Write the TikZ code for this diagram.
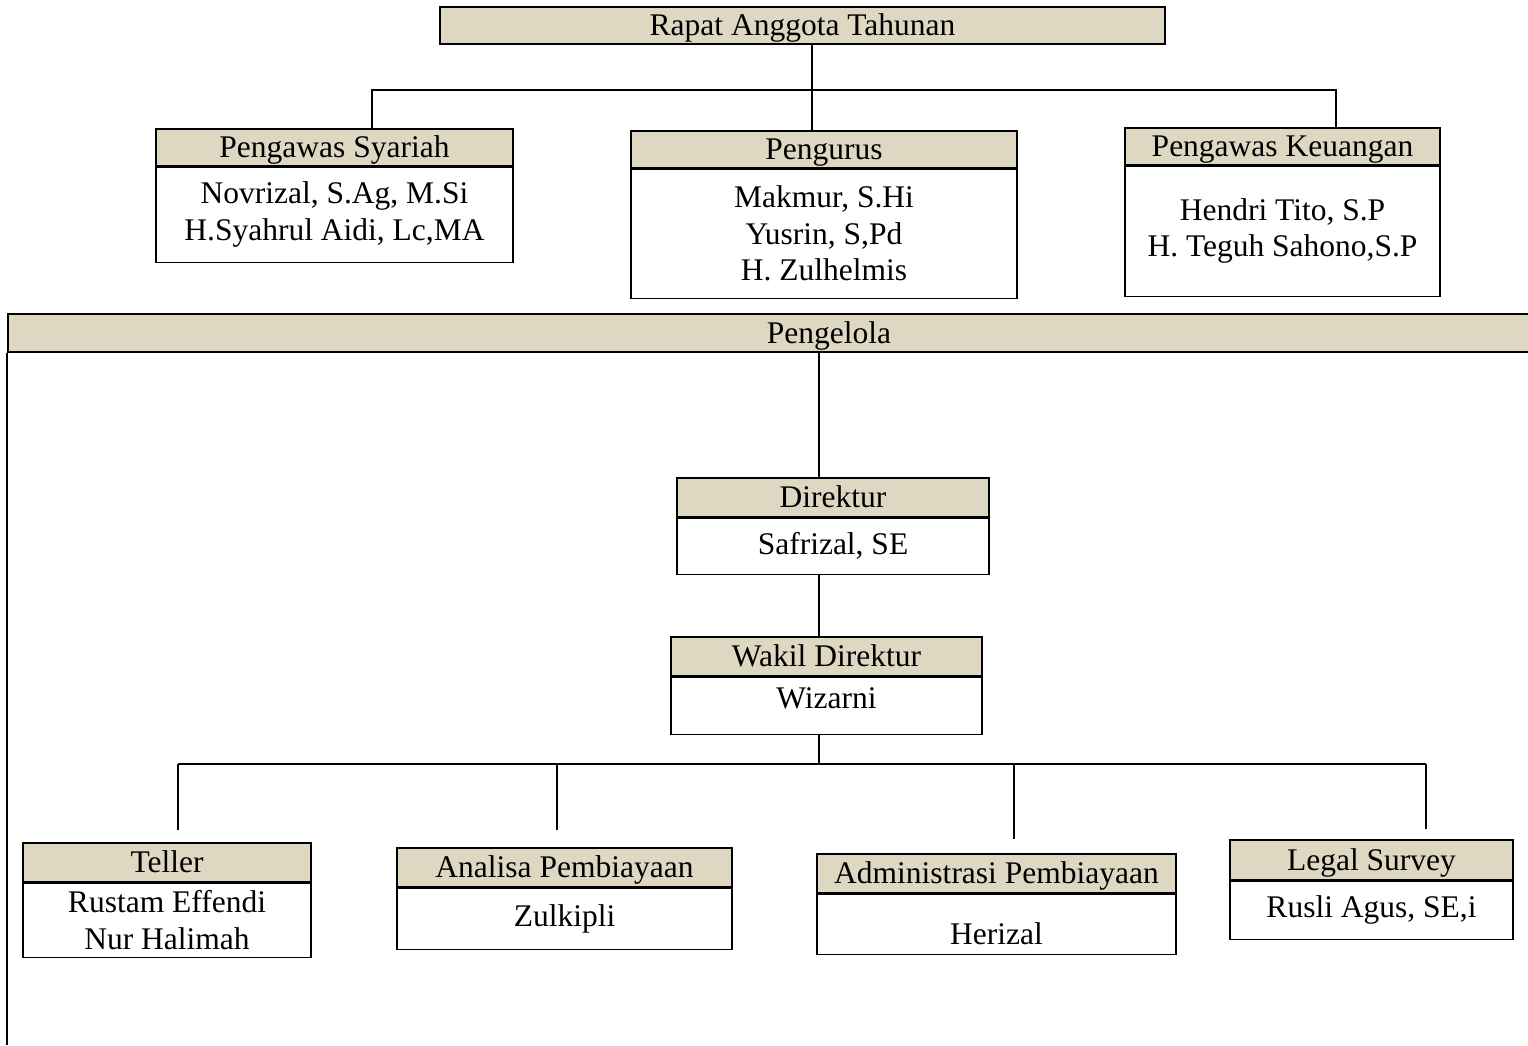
\documentclass[tikz,border=0pt]{standalone}
\usepackage{fontspec}
\setmainfont{Liberation Serif}
\definecolor{headfill}{HTML}{DED8C2}

\begin{document}
\begin{tikzpicture}[x=1pt, y=-1pt,
    boxline/.style={draw=black, line width=1.1pt},
    orgtext/.style={font=\fontsize{31.5}{36.5}\selectfont, inner sep=0pt, align=center},
    headbox/.style={boxline, orgtext, fill=headfill, text height=24pt, text depth=4pt},
    bodybox/.style={boxline, orgtext, fill=white, anchor=north},
    link/.style={line width=1.5pt}]
    % Globals
    \pgfmathsetmacro{\spineX}{819}
    \pgfmathsetmacro{\topBusY}{90}
    \pgfmathsetmacro{\botBusY}{764}

    \path[use as bounding box] (0,0) rectangle (1528,1045);
    \clip (0,0) rectangle (1528,1045);

    \coordinate (TOP_L) at (372, \topBusY);
    \coordinate (TOP_M) at (812, \topBusY);
    \coordinate (TOP_R) at (1336, \topBusY);
    \coordinate (SPINE) at (\spineX, \botBusY);
    \coordinate (BOT_1) at (178, \botBusY);
    \coordinate (BOT_2) at (557, \botBusY);
    \coordinate (BOT_3) at (1014, \botBusY);
    \coordinate (BOT_4) at (1426, \botBusY);
    \coordinate (PAGE_S) at (0, 1045);

    % Top level
    \node[headbox, minimum width=725pt, minimum height=37pt] (RAT) at (802.5, 25.5) {Rapat Anggota Tahunan};

    \node[headbox, minimum width=357pt, minimum height=37pt] (PS_HEAD) at (334.5, 147.5) {Pengawas Syariah};
    \node[bodybox, minimum width=357pt, minimum height=95pt] (PS_BODY) at (PS_HEAD.south) {Novrizal, S.Ag, M.Si\\H.Syahrul Aidi, Lc,MA};

    \node[headbox, minimum width=386pt, minimum height=37pt] (PG_HEAD) at (824, 149.5) {Pengurus};
    \node[bodybox, minimum width=386pt, minimum height=129pt] (PG_BODY) at (PG_HEAD.south) {Makmur, S.Hi\\Yusrin, S,Pd\\H. Zulhelmis};

    \node[headbox, minimum width=315pt, minimum height=37pt] (PK_HEAD) at (1282.5, 146.5) {Pengawas Keuangan};
    \node[bodybox, minimum width=315pt, minimum height=130pt] (PK_BODY) at (PK_HEAD.south) {Hendri Tito, S.P\\H. Teguh Sahono,S.P};

    \draw[link] (TOP_M |- RAT.south) -- (TOP_M |- PG_HEAD.north);
    \draw[link] (TOP_L |- PS_HEAD.north) -- (TOP_L) -- (TOP_R) -- (TOP_R |- PK_HEAD.north);

    % Pengelola
    \node[headbox, line width=1.6pt, minimum width=1642pt, minimum height=38pt] (PL) at (829, 333) {Pengelola};
    \draw[link] (PL.south west) -- (PL.south west |- PAGE_S);

    \node[headbox, minimum width=312pt, minimum height=39pt] (DIR_HEAD) at (833, 497.5) {Direktur};
    \node[bodybox, minimum width=312pt, minimum height=56pt] (DIR_BODY) at (DIR_HEAD.south) {Safrizal, SE};

    \node[headbox, minimum width=311pt, minimum height=39pt] (WAK_HEAD) at (826.5, 656.5) {Wakil Direktur};
    \node[bodybox, text depth=16pt, minimum width=311pt, minimum height=57pt] (WAK_BODY) at (WAK_HEAD.south) {Wizarni};

    \draw[link] (SPINE |- PL.south) -- (SPINE |- DIR_HEAD.north);
    \draw[link] (SPINE |- DIR_BODY.south) -- (SPINE |- WAK_HEAD.north);
    \draw[link] (SPINE |- WAK_BODY.south) -- (SPINE);

    % Units
    \node[headbox, minimum width=288pt, minimum height=39pt] (TEL_HEAD) at (167, 862.5) {Teller};
    \node[bodybox, minimum width=288pt, minimum height=74pt] (TEL_BODY) at (TEL_HEAD.south) {Rustam Effendi\\Nur Halimah};

    \node[headbox, minimum width=335pt, minimum height=39pt] (ANA_HEAD) at (564.5, 867.5) {Analisa Pembiayaan};
    \node[bodybox, minimum width=335pt, minimum height=61pt] (ANA_BODY) at (ANA_HEAD.south) {Zulkipli};

    \node[headbox, minimum width=359pt, minimum height=39pt] (ADM_HEAD) at (996.5, 873.5) {Administrasi Pembiayaan};
    \node[bodybox, text height=41.5pt, minimum width=359pt, minimum height=60pt] (ADM_BODY) at (ADM_HEAD.south) {Herizal};

    \node[headbox, minimum width=283pt, minimum height=40pt] (LEG_HEAD) at (1371.5, 860) {Legal Survey};
    \node[bodybox, minimum width=283pt, minimum height=58pt] (LEG_BODY) at (LEG_HEAD.south) {Rusli Agus, SE,i};

    \draw[link] (BOT_1) -- (BOT_4);
    \draw[link, shorten >=12pt] (BOT_1) -- (BOT_1 |- TEL_HEAD.north);
    \draw[link, shorten >=17pt] (BOT_2) -- (BOT_2 |- ANA_HEAD.north);
    \draw[link, shorten >=14pt] (BOT_3) -- (BOT_3 |- ADM_HEAD.north);
    \draw[link, shorten >=10pt] (BOT_4) -- (BOT_4 |- LEG_HEAD.north);

\end{tikzpicture}
\end{document}
